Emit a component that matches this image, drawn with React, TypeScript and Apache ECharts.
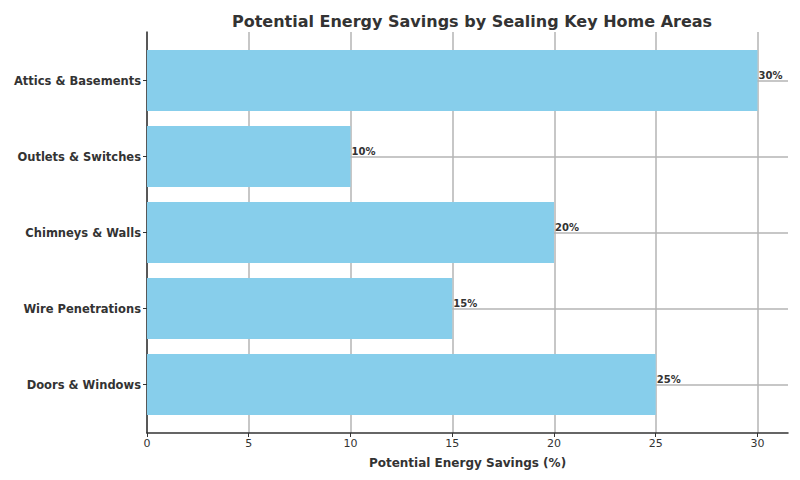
import React, { useEffect, useRef } from "react";
import * as echarts from "echarts";

const categories = [
  "Attics & Basements",
  "Outlets & Switches",
  "Chimneys & Walls",
  "Wire Penetrations",
  "Doors & Windows",
];
const savings = [30, 10, 20, 15, 25];
const xTicks = [0, 5, 10, 15, 20, 25, 30];

const TEXT = "#333333";
const GRIDC = "#b4b4b4";
const FONT = "'DejaVu Sans', sans-serif";

export default function App() {
  const ref = useRef<HTMLDivElement>(null);
  useEffect(() => {
    if (!ref.current) return;
    const chart = echarts.init(ref.current, null, { renderer: "svg" });
    chart.setOption({
      animation: false,
      backgroundColor: "#ffffff",
      textStyle: { fontFamily: FONT },
      title: {
        text: "Potential Energy Savings by Sealing Key Home Areas",
        left: 467,
        textAlign: "center",
        top: 8,
        textStyle: { fontSize: 16, fontWeight: "bold", color: TEXT, fontFamily: FONT },
      },
      grid: [
        { left: 147, right: 42, top: 32, bottom: 47 },
        { left: 147, right: 12, top: 42.5, bottom: 57.5 },
        { left: 147, right: 12, top: 32, bottom: 47 },
      ],
      xAxis: [
        {
          gridIndex: 0,
          type: "value",
          min: 0,
          max: 30,
          interval: 5,
          axisLine: { show: false },
          axisTick: { show: false },
          axisLabel: { show: false },
          splitLine: { show: true, lineStyle: { color: GRIDC, width: 1.5 } },
        },
        {
          gridIndex: 1,
          type: "value",
          min: 0,
          max: 31.5,
          show: false,
          splitLine: { show: false },
        },
        {
          gridIndex: 2,
          type: "value",
          min: 0,
          max: 31.5,
          interval: 5,
          axisLine: { show: true, onZero: false, lineStyle: { color: TEXT, width: 1.5 } },
          axisTick: { show: true, length: 4, customValues: xTicks, lineStyle: { color: TEXT } },
          axisLabel: {
            show: true,
            customValues: xTicks,
            color: TEXT,
            fontSize: 11,
            margin: 5,
            fontFamily: FONT,
          },
          splitLine: { show: false },
          name: "Potential Energy Savings (%)",
          nameLocation: "middle",
          nameGap: 24,
          nameTextStyle: { color: TEXT, fontSize: 12, fontWeight: "bold", fontFamily: FONT },
        },
      ],
      yAxis: [
        {
          gridIndex: 0,
          type: "value",
          show: false,
          splitLine: { show: false },
        },
        {
          gridIndex: 1,
          type: "category",
          data: categories,
          inverse: true,
          axisLine: { show: false },
          axisTick: { show: true, alignWithLabel: true, length: 4, lineStyle: { color: TEXT } },
          axisLabel: { color: TEXT, fontSize: 11.5, fontWeight: "bold", margin: 6, fontFamily: FONT },
          splitLine: { show: false },
        },
        {
          gridIndex: 2,
          type: "value",
          min: 0,
          max: 1,
          axisLine: { show: true, lineStyle: { color: TEXT, width: 1.5 } },
          axisTick: { show: false },
          axisLabel: { show: false },
          splitLine: { show: false },
        },
      ],
      series: [
        {
          type: "line",
          xAxisIndex: 1,
          yAxisIndex: 1,
          data: [],
          z: 0,
          silent: true,
          markLine: {
            z: 0,
            silent: true,
            symbol: "none",
            label: { show: false },
            lineStyle: { color: GRIDC, width: 1.5, type: "solid" },
            data: categories.map((c) => ({ yAxis: c })),
          },
        },
        {
          type: "bar",
          xAxisIndex: 1,
          yAxisIndex: 1,
          data: savings,
          barWidth: 61,
          z: 3,
          itemStyle: { color: "#87CEEB" },
          label: {
            show: true,
            position: "right",
            distance: 1,
            offset: [0, -5],
            formatter: "{c}%",
            color: TEXT,
            fontSize: 10,
            fontWeight: "bold",
            fontFamily: FONT,
          },
        },
      ],
    });
    return () => chart.dispose();
  }, []);
  return <div ref={ref} style={{ width: 800, height: 480, position: "absolute", left: 0, top: 0 }} />;
}
